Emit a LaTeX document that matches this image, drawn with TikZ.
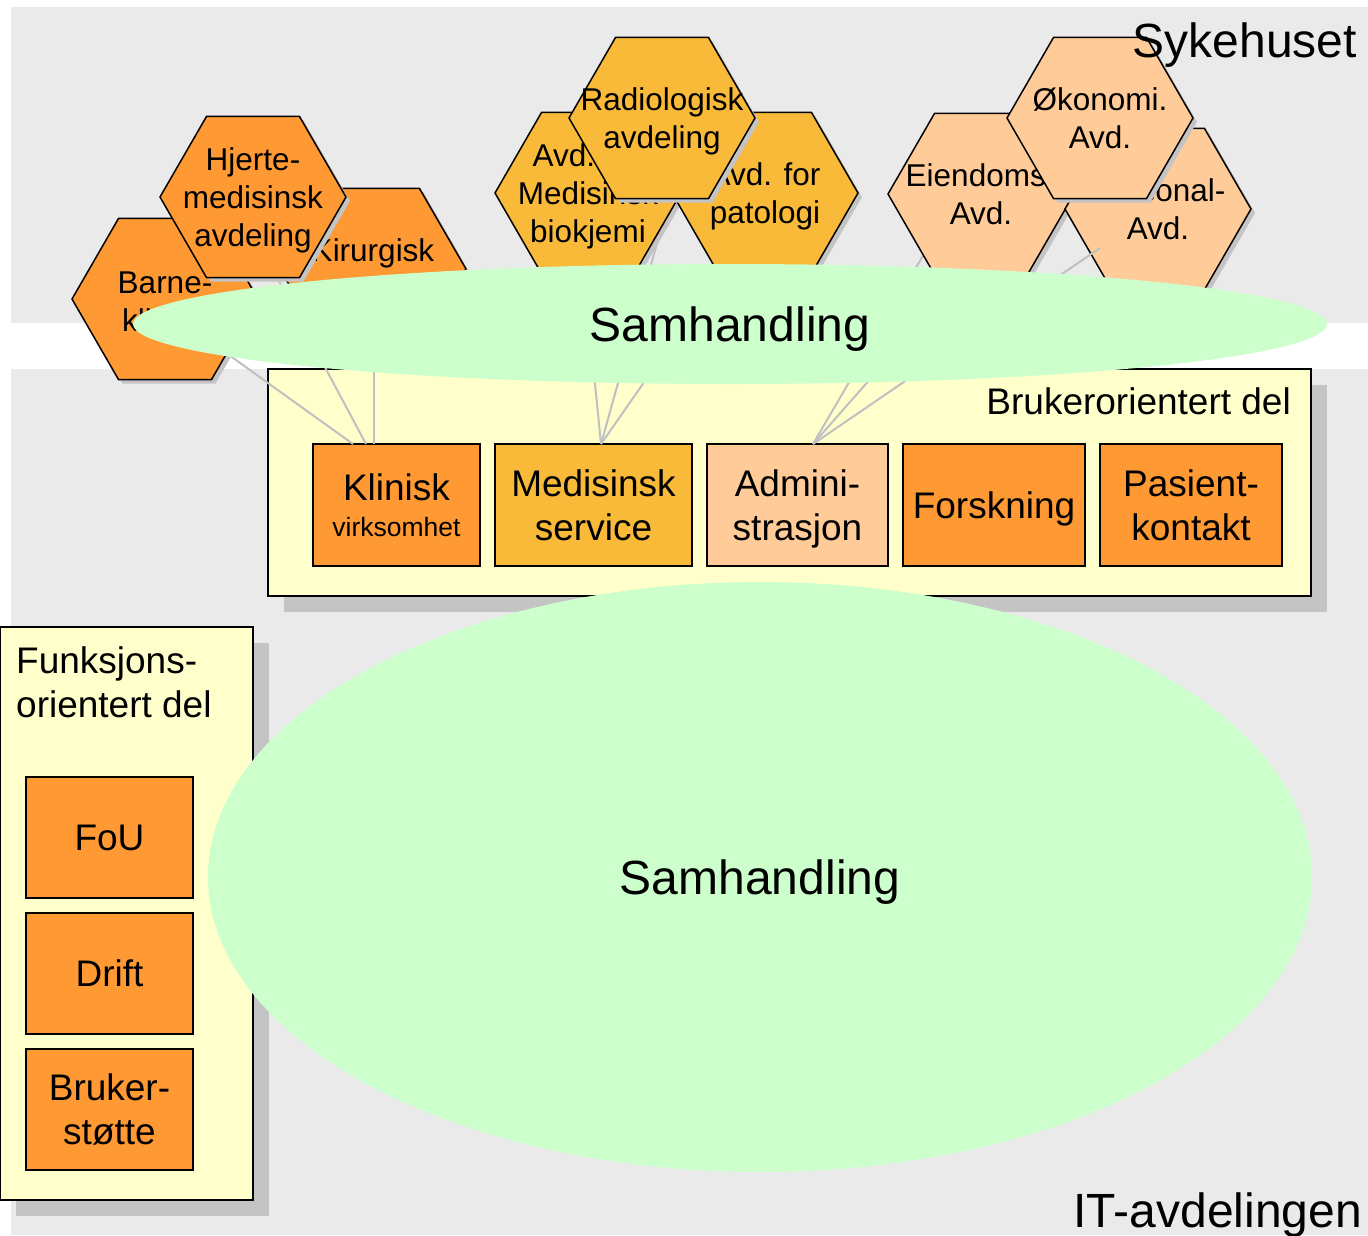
\documentclass[tikz,border=0pt]{standalone}
\usepackage{fontspec}
\setmainfont{Liberation Sans}
\usetikzlibrary{calc, positioning, shapes.geometric, shadows}

\definecolor{bggray}{HTML}{EAEAEA}
\definecolor{shadowgray}{HTML}{C4C4C4}
\definecolor{linkgray}{HTML}{C0C0C0}
\definecolor{partyellow}{HTML}{FFFFCC}
\definecolor{samgreen}{HTML}{CCFFCC}
\definecolor{klinorange}{HTML}{FF9933}
\definecolor{medgold}{HTML}{F9BA3A}
\definecolor{admpeach}{HTML}{FFCC99}

\newcommand{\samhfont}{\fontsize{48}{57}\selectfont}
\newcommand{\unitfont}{\fontsize{37}{44}\selectfont}
\newcommand{\smallunitfont}{\fontsize{26.5}{35}\selectfont}
\newcommand{\hexfont}{\fontsize{31.5}{38}\selectfont}

\tikzset{
  hexa/.style={regular polygon, regular polygon sides=6, minimum size=186pt,
    inner sep=0pt, draw, line width=1.5pt, fill=#1,
    drop shadow={shadow xshift=4pt, shadow yshift=-4pt, fill=shadowgray, opacity=1}},
  hexlabel/.style={align=center, font=\hexfont, text depth=0pt},
  unit/.style={draw, line width=1.5pt, fill=#1, minimum height=122pt,
    inner sep=0pt, outer sep=0pt, align=center, font=\unitfont, text depth=0pt},
  part/.style={draw, line width=1.5pt, fill=partyellow,
    drop shadow={shadow xshift=16pt, shadow yshift=-16pt, fill=shadowgray, opacity=1}},
  samh/.style={ellipse, fill=samgreen, inner sep=0pt, font=\samhfont, text depth=0pt},
  link/.style={draw=linkgray, line width=2pt}
}

\begin{document}
\begin{tikzpicture}[x=1pt, y=-1pt]
  \useasboundingbox (0,0) rectangle (1368,1235);
  % the two organisations
  \fill[bggray] (11,7) rectangle (1368,323);
  \fill[bggray] (11,369) rectangle (1368,1235);

  % brukerorientert del
  \node[part, minimum width=1043pt, minimum height=227pt] (bruker) at (789.5,482.5) {};
  \node[anchor=base east, font=\unitfont, inner sep=0pt] (brukertxt) at (1291,414) {Brukerorientert del};
  \node[unit=klinorange, minimum width=167pt, text depth=-5pt] (klin) at (396.5,505)
    {Klinisk\\[-8pt]\smallunitfont virksomhet};
  \node[unit=medgold, minimum width=197pt, right=15pt of klin] (medserv) {Medisinsk\\service};
  \node[unit=admpeach, minimum width=181pt, right=15pt of medserv] (admin) {Admini-\\strasjon};
  \node[unit=klinorange, minimum width=182pt, right=15pt of admin] (forsk) {Forskning};
  \node[unit=klinorange, minimum width=182pt, right=15pt of forsk] (pasient) {Pasient-\\kontakt};

  % centres of the departments
  \coordinate (barne-c) at (165,299);
  \coordinate (kirur-c) at (373,269);
  \coordinate (hjerte-c) at (253,197);
  \coordinate (biokj-c) at (588,193);
  \coordinate (radio-c) at (662,118);
  \coordinate (pato-c) at (765,193);
  \coordinate (eiend-c) at (981,194);
  \coordinate (perso-c) at (1158,209);
  \coordinate (okon-c) at (1100,118);

  % links, behind the hexagons
  \draw[link] ([xshift=-43.5pt]klin.north) -- ($(barne-c)+(-14,0)$);
  \draw[link] ([xshift=-30.5pt]klin.north) -- ($(hjerte-c)+(-19,0)$);
  \draw[link] ([xshift=-22.5pt]klin.north) -- ($(kirur-c)+(1,0)$);
  \draw[link] ([xshift=7.5pt]medserv.north) -- ($(biokj-c)+(-12,0)$);
  \draw[link] ([xshift=7.5pt]medserv.north) -- ($(radio-c)+(30,0)$);
  \draw[link] ([xshift=7.5pt]medserv.north) -- ($(pato-c)+(11,0)$);
  \draw[link] ([xshift=15.5pt]admin.north) -- ($(eiend-c)+(-22,0)$);
  \draw[link] ([xshift=15.5pt]admin.north) -- (okon-c);

  % klinisk virksomhet
  \node[hexa=klinorange, label={[hexlabel, yshift=-3pt]center:Barne-\\klinikk}] (barne) at (barne-c) {};
  \node[hexa=klinorange, label={[hexlabel]center:Kirurgisk\\~}] (kirur) at (kirur-c) {};
  \node[hexa=klinorange, label={[hexlabel]center:Hjerte-\\medisinsk\\avdeling}] (hjerte) at (hjerte-c) {};
  % medisinsk service
  \node[hexa=medgold, label={[hexlabel]center:Avd. for\\Medisinsk\\biokjemi}] (biokj) at (biokj-c) {};
  \node[hexa=medgold, label={[hexlabel]center:Avd. for\\patologi}] (pato) at (pato-c) {};
  \node[hexa=medgold, label={[hexlabel]center:Radiologisk\\avdeling}] (radio) at (radio-c) {};
  % administrasjon
  \node[hexa=admpeach, label={[hexlabel]center:Eiendoms-\\Avd.}] (eiend) at (eiend-c) {};
  \node[hexa=admpeach, label={[hexlabel]center:Personal-\\Avd.}] (perso) at (perso-c) {};
  \node[hexa=admpeach, label={[hexlabel]center:Økonomi.\\Avd.}] (okon) at (okon-c) {};
  \draw[link] ([xshift=15.5pt]admin.north) -- ($(perso-c)+(-58,39)$);

  \node[samh, minimum width=1194pt, minimum height=120pt] (samh1) at (730,324) {Samhandling};

  % funksjonsorientert del
  \node[part, minimum width=253pt, minimum height=573pt] (funksjon) at (126.5,913.5) {};
  \node[anchor=north west, align=left, font=\unitfont, inner sep=0pt] (funkstxt) at (16,646)
    {Funksjons-\\orientert del};
  \node[unit=klinorange, minimum width=167pt, minimum height=121pt] (fou) at (109.5,837.5) {FoU};
  \node[unit=klinorange, minimum width=167pt, minimum height=121pt, below=15pt of fou] (drift) {Drift};
  \node[unit=klinorange, minimum width=167pt, minimum height=121pt, below=15pt of drift] (brukst)
    {Bruker-\\støtte};

  \node[samh, minimum width=1104pt, minimum height=590pt] (samh2) at (760,877) {Samhandling};

  \node[anchor=base east, font=\samhfont, inner sep=0pt] (sykehus) at (1357,57) {Sykehuset};
  \node[anchor=base east, font=\samhfont, inner sep=0pt] (itavd) at (1362,1227) {IT-avdelingen};
\end{tikzpicture}
\end{document}
